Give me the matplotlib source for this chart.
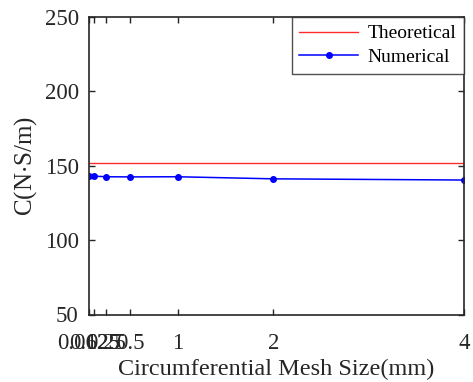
import matplotlib
matplotlib.use("Agg")
import matplotlib.pyplot as plt

# mesh sizes (mm) and damping coefficient values
mesh_size = [0.0625, 0.125, 0.25, 0.5, 1, 2, 4]
numerical = [143.2, 143.0, 142.6, 142.5, 142.6, 141.2, 140.4]
theoretical = 152.0
tick_labels = ["0.0625", "0.125", "0.25", "0.5", "1", "2", "4"]

plt.rcParams['font.family'] = ['Liberation Serif', 'DejaVu Serif']
plt.rcParams['mathtext.fontset'] = 'stix'

fig = plt.figure(figsize=(4.73, 3.82), dpi=100)
ax = fig.add_axes([88.5 / 473, 1 - 314.5 / 382, (464 - 88.5) / 473, (314.5 - 17) / 382])

ax.axhline(theoretical, color='#ff2a2a', lw=1.0, label='Theoretical')
ax.plot(mesh_size, numerical, color='#0000ff', lw=1.1, marker='o', ms=4,
        label='Numerical')

ax.set_xlim(0.0625, 4)
ax.set_ylim(50, 250)
ax.set_xticks(mesh_size)
ax.set_xticklabels(tick_labels)
ax.set_yticks([50, 100, 150, 200, 250])

ax.tick_params(direction='in', top=True, right=True, labelsize=16.5, length=4,
               width=1.0, colors='#262626')
ax.tick_params(axis='x', pad=13)
ax.tick_params(axis='y', pad=7)
for lbl in ax.get_xticklabels() + ax.get_yticklabels():
    lbl.set_color('#262626')
for sp in ax.spines.values():
    sp.set_linewidth(1.2)
    sp.set_color('#262626')

ax.set_xlabel('Circumferential Mesh Size(mm)', fontsize=17.5, color='#262626', labelpad=4)
ax.set_ylabel('C(N$\\cdot$S/m)', fontsize=18, color='#262626', labelpad=4)

leg = ax.legend(loc='upper right', fontsize=14, frameon=True, fancybox=False,
                edgecolor='#262626', handlelength=3.0, borderaxespad=0.0,
                borderpad=0.4, labelspacing=0.3, handletextpad=0.5,
                numpoints=1)
leg.get_frame().set_linewidth(1.0)

fig.savefig('out.png', dpi=100)
